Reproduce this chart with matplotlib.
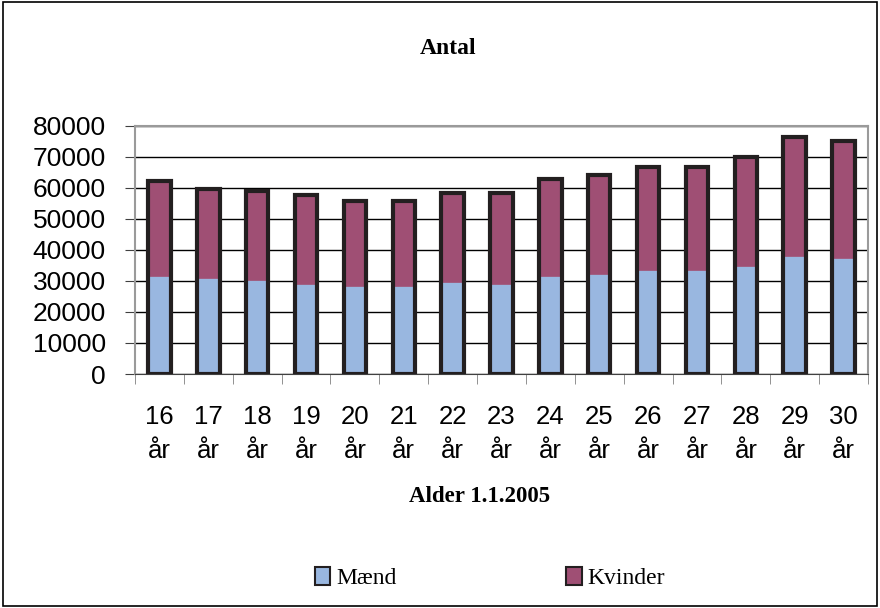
import matplotlib.pyplot as plt
import numpy as np
from matplotlib.patches import Rectangle, Patch

ages = ["16", "17", "18", "19", "20", "21", "22", "23", "24", "25", "26", "27", "28", "29", "30"]
maend = [31600, 30900, 30300, 29000, 28300, 28300, 29600, 29000, 31600, 32200, 33500, 33500, 34800, 38100, 37400]
totals = [62200, 59600, 58900, 57600, 55700, 55700, 58300, 58300, 62800, 64100, 66700, 66700, 69900, 76500, 75100]
kvinder = [t - m for t, m in zip(totals, maend)]

blue = "#99b7e0"
purple = "#9f4f74"
dark = "#231f20"

fig = plt.figure(figsize=(8.8, 6.08), dpi=100)
ax = fig.add_axes([135/880, 1 - 374/608, (868 - 135)/880, (374 - 125.7)/608])

x = np.arange(len(ages))
w = 0.46
ax.bar(x, maend, w, color=blue, edgecolor=blue, linewidth=0.5, zorder=3)
ax.bar(x, kvinder, w, bottom=maend, color=purple, edgecolor=purple, linewidth=0.5, zorder=3)
# dark outline round each whole stack
ax.bar(x, totals, w, fill=False, edgecolor=dark, linewidth=3, zorder=4)

ax.set_xlim(-0.5, len(ages) - 0.5)
ax.set_ylim(0, 80000)
ax.set_yticks(np.arange(0, 80001, 10000))
ax.yaxis.grid(True, color="black", linewidth=1.0)
ax.set_axisbelow(True)

ax.set_xticks(x)
ax.set_xticklabels([a + "\når" for a in ages], fontsize=18.5, family="Liberation Sans", linespacing=1.55)
ax.set_xticks(np.arange(-0.5, len(ages)), minor=True)
ax.tick_params(axis="x", which="major", length=0, pad=22)
ax.tick_params(axis="x", which="minor", length=7, color="#808080", direction="out")
ax.tick_params(axis="y", length=7, color="#404040", pad=14, labelsize=19)
for lab in ax.get_yticklabels():
    lab.set_family("Liberation Sans")

for s in ["top", "right", "left"]:
    ax.spines[s].set_color("#9a9a9a")
    ax.spines[s].set_linewidth(1.5)
ax.spines["bottom"].set_color("#404040")

fig.text(448/880, 1 - 48/608, "Antal", ha="center", va="center",
         family="Liberation Serif", weight="bold", fontsize=17)
fig.text(480/880, 1 - 496/608, "Alder 1.1.2005", ha="center", va="center",
         family="Liberation Serif", weight="bold", fontsize=16.5)

handles = [Patch(facecolor=blue, edgecolor=dark, linewidth=1.5),
           Patch(facecolor=purple, edgecolor=dark, linewidth=1.5)]
fig.legend(handles, ["Mænd", "Kvinder"], loc="center", bbox_to_anchor=(490/880, 1 - 578/608), ncol=2,
           frameon=False, prop={"family": "Liberation Serif", "size": 17}, columnspacing=7.2,
           handlelength=0.65, handleheight=0.8, handletextpad=0.25)

fig.patches.append(Rectangle((0.003, 0.003), 0.994, 0.994, transform=fig.transFigure,
                             fill=False, edgecolor="black", linewidth=1.2))

fig.savefig("out.png", dpi=100)
